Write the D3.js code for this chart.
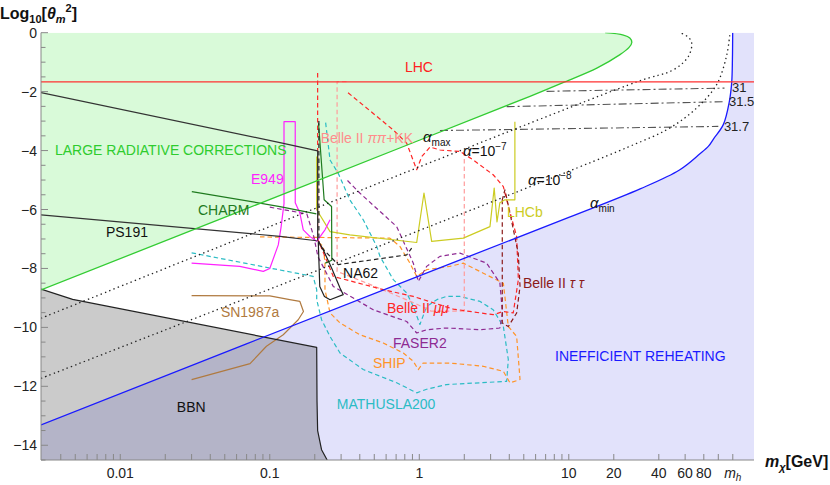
<!DOCTYPE html>
<html><head><meta charset="utf-8">
<script src="https://cdn.jsdelivr.net/npm/d3@7"></script>
<style>
body{margin:0;background:#fff}
text{font-family:"Liberation Sans",Arial,Helvetica,sans-serif}
</style></head>
<body><svg id="c" width="830" height="485"></svg>
<script>
// ---------- data: [mass GeV, log10 theta^2] ----------
const radiativeBound = [[0.00295,-8.73],[1,-3.65],[5.5,-2.16],[9.4,-1.67],[15.4,-1.2],[22,-0.745],[25.3,-0.5],[26.4,-0.33],[25.6,-0.18],[23.2,-0.08],[17.5,0]];
const alphaMin = [[0.00295,-13.31],[1,-8.25],[10,-6.27],[30,-5.3],[55,-4.66],[75,-4.12],[86,-3.85],[93,-3.6],[108,-3.12],[118.6,-2.33],[123,-1.67],[124.3,-0.9],[124.8,0]];
const alpha7 = [[0.00295,-9.69],[28.4,-1.67],[50,-1.26],[63,-0.81],[66.4,-0.36],[63,-0.15],[55.5,0]];
const alpha8 = [[0.00295,-11.73],[24.4,-3.9],[47.5,-3.23],[71.8,-2.55],[97.5,-1.76],[114,-0.75],[119.7,0]];
const lhcLevel = [[0.00295,-1.67],[173.3,-1.67]];
const contour31 = [[7.1,-1.99],[110,-1.88]];
const contour315 = [[3.84,-2.51],[110,-2.34]];
const contour317 = [[1.375,-3.32],[100,-3.18]];
const bbnBound = [[0.00295,-8.7],[0.0048,-9.05],[0.206,-10.68],[0.207,-12.5],[0.209,-13.5],[0.222,-14.15],[0.242,-14.5]];
const topBlack = [[0.00295,-2.03],[0.117,-3.73],[0.209,-4.01],[0.209,-7.06]];
const ps191 = [[0.00295,-6.18],[0.117,-6.91],[0.206,-7.06]];
const na62Solid = [[0.211,-7.08],[0.214,-8.0],[0.216,-8.61],[0.232,-8.95],[0.253,-9.06],[0.31,-8.89],[0.295,-8.66],[0.26,-8.0],[0.228,-7.37],[0.213,-7.1]];
const na62Dashed = [[0.213,-3.0],[0.213,-7.2],[0.287,-7.87],[0.824,-7.54],[0.889,-7.31]];
const charmA = [[0.0301,-5.39],[0.117,-5.9],[0.205,-6.15]];
const charmB = [[0.212,-3.07],[0.231,-5.67],[0.259,-5.9],[0.26,-7.72],[0.235,-7.82]];
const e949 = [[0.03,-7.82],[0.063,-7.93],[0.0905,-8.1],[0.1,-8.0],[0.114,-7.2],[0.119,-6.6],[0.1245,-5.8],[0.1245,-3.02],[0.148,-3.02],[0.148,-5.77],[0.159,-6.12],[0.1675,-6.69],[0.186,-6.92],[0.206,-7.08],[0.234,-6.69],[0.253,-6.35]];
const lhcb = [[0.206,-4.2],[0.206,-6.01],[0.253,-6.75],[0.343,-6.86],[0.961,-7.12],[1.075,-5.44],[1.21,-7.08],[1.97,-6.97],[2.97,-6.58],[3.17,-5.27],[3.31,-6.42],[3.46,-5.77],[3.74,-5.67],[4.36,-5.67],[4.36,-3.02]];
const belleMuMu = [[0.209,-1.37],[0.209,-7.0],[0.266,-8.27],[0.574,-8.72],[0.912,-8.95],[1.69,-9.38],[3.12,-9.57],[3.65,-9.46],[4.25,-9.51],[4.6,-8.38],[4.48,-6.92],[3.84,-5.67],[3.65,-5.22],[3.12,-4.82],[2.3,-4.32],[1.87,-4.03],[1.375,-3.98],[1.18,-3.88],[1.04,-4.2],[0.961,-4.65],[0.824,-3.75],[0.67,-3.3],[0.327,-2.0]];
const bellePiPiA = [[2.0,-9.45],[1.2,-9.45],[0.95,-9.2],[0.5,-8.6],[0.282,-8.1],[0.282,-1.66],[0.33,-1.66]];
const bellePiPiB = [[2.0,-4.03],[2.0,-9.45]];
const belleTauTau = [[3.59,-5.67],[3.59,-9.85],[3.94,-9.97],[4.48,-9.51],[4.72,-8.61],[4.59,-7.48],[4.04,-6.12],[3.74,-5.33],[3.59,-5.67]];
const faser2 = [[0.1,-5.92],[0.177,-6.15],[0.197,-6.92],[0.21,-7.6],[0.266,-8.61],[0.492,-9.4],[0.824,-9.8],[0.961,-10.19],[1.12,-10.08],[1.52,-10.02],[2.55,-10.08],[3.46,-10.02],[3.6,-9.51],[3.46,-8.49],[2.82,-7.82],[1.87,-7.48],[1.375,-7.59],[1.12,-7.93],[0.985,-8.44],[0.912,-7.82],[0.706,-6.58],[0.4,-5.44],[0.327,-4.99]];
const ship = [[0.086,-6.93],[0.636,-6.97],[0.742,-7.25],[0.866,-7.82],[0.961,-8.27],[1.12,-8.04],[1.6,-7.93],[1.97,-7.82],[2.68,-8.16],[3.65,-8.5],[3.94,-9.97],[4.48,-10.31],[4.72,-11.77],[4.04,-11.88],[3.65,-11.49],[2.68,-11.32],[1.6,-11.21],[1.06,-11.21],[0.985,-11.43],[0.912,-11.15],[0.782,-10.87],[0.574,-10.53],[0.401,-10.25],[0.295,-9.85],[0.253,-9.51],[0.234,-8.72],[0.234,-7.82],[0.228,-7.25],[0.21,-7.1]];
const mathusla = [[0.03,-7.47],[0.195,-8.27],[0.206,-8.72],[0.206,-9.06],[0.222,-9.74],[0.253,-10.31],[0.295,-10.87],[0.422,-11.43],[0.706,-11.88],[0.961,-12.22],[1.12,-12.1],[1.52,-11.94],[2.55,-11.88],[3.84,-11.83],[3.94,-11.09],[3.65,-9.97],[3.12,-9.4],[2.55,-9.12],[1.87,-8.95],[1.52,-8.95],[1.31,-9.06],[1.12,-9.29],[1.01,-9.9],[0.912,-9.29],[0.824,-8.83],[0.67,-8.38],[0.546,-7.59],[0.519,-7.25],[0.422,-6.35],[0.343,-5.67],[0.287,-4.77],[0.253,-4.32],[0.236,-3.02]];
const sn1987a = [[0.03,-8.92],[0.1,-8.93],[0.136,-9.06],[0.159,-9.12],[0.168,-9.46],[0.155,-9.74],[0.123,-10.25],[0.095,-10.64],[0.0738,-11.23],[0.03,-11.77]];

const xTickVals = [0.004,0.005,0.006,0.007,0.008,0.009,0.01,0.02,0.03,0.04,0.05,0.06,0.07,0.08,0.09,0.1,0.2,0.3,0.4,0.5,0.6,0.7,0.8,0.9,1,2,3,4,5,6,7,8,9,10,20,40,60,80,100,125];
const xTickLabels = [[0.01,"0.01"],[0.1,"0.1"],[1,"1"],[10,"10"],[20,"20"],[40,"40"],[60,"60"],[80,"80"]];
const yMajor = [0,-2,-4,-6,-8,-10,-12,-14];
const yMinor = [-0.5,-1,-1.5,-2.5,-3,-3.5,-4.5,-5,-5.5,-6.5,-7,-7.5,-8.5,-9,-9.5,-10.5,-11,-11.5,-12.5,-13,-13.5,-14.5];

// ---------- scales ----------
const svg = d3.select("#c");
const x = d3.scaleLog().domain([0.00295,173.3]).range([41,754]);
const y = d3.scaleLinear().domain([-14.5,0]).range([460,32.7]);
const X0 = x.domain()[0], X1 = x.domain()[1], Y0 = y.domain()[0], Y1 = y.domain()[1];
const lin = d3.line().x(d=>x(d[0])).y(d=>y(d[1]));
const smooth = d3.line().x(d=>x(d[0])).y(d=>y(d[1])).curve(d3.curveCatmullRom.alpha(0.5));
const P = (m,v)=>x(m)+","+y(v);

svg.append("defs").append("clipPath").attr("id","clip").append("rect")
  .attr("x",x(X0)).attr("y",y(Y1)).attr("width",x(X1)-x(X0)).attr("height",y(Y0)-y(Y1));
const g = svg.append("g").attr("clip-path","url(#clip)");

// fills
g.append("path").attr("d", smooth(alphaMin)+"L"+P(X1,Y1)+"L"+P(X1,Y0)+"L"+P(X0,Y0)+"Z").attr("fill","#e2e2fb");
g.append("path").attr("d", smooth(radiativeBound)+"L"+P(X0,Y1)+"Z").attr("fill","#d9fad9");
g.append("path").attr("d", lin(bbnBound)+"L"+P(X0,Y0)+"Z").attr("fill","#cbcbcb").style("mix-blend-mode","multiply");

function draw(data, color, opts={}){
  g.append("path").attr("d",(opts.smooth?smooth:lin)(data)).attr("fill","none")
   .attr("stroke",color).attr("stroke-width",opts.w||1.2)
   .attr("stroke-dasharray",opts.dash||null).attr("stroke-linejoin","round");
}
const DASH="4.5,3";
// experiments
draw(sn1987a,"#b07a40");
draw(mathusla,"#2bbcc4",{dash:DASH});
draw(ship,"#ff9428",{dash:DASH});
draw(faser2,"#8e2a92",{dash:DASH});
draw(bellePiPiA,"#ff9c9c",{dash:DASH});
draw(bellePiPiB,"#ff9c9c",{dash:DASH});
draw(belleMuMu,"#ff2626",{dash:DASH});
draw(belleTauTau,"#8b1a1a",{dash:DASH});
draw(lhcb,"#cccc22");
draw(e949,"#ff22ff");
draw(charmA,"#1f7a1f");
draw(charmB,"#1f7a1f");
draw(na62Dashed,"#222",{dash:DASH});
draw(na62Solid,"#222");
draw(topBlack,"#333");
draw(ps191,"#333");
// contours
draw(contour31,"#555",{dash:"8,3,2,3",w:1.1});
draw(contour315,"#555",{dash:"8,3,2,3",w:1.1});
draw(contour317,"#555",{dash:"8,3,2,3",w:1.1});
draw(alpha7,"#222",{smooth:true,dash:"1.4,3.2",w:1.3});
draw(alpha8,"#222",{smooth:true,dash:"1.4,3.2",w:1.3});
draw(bbnBound,"#222");
draw(alphaMin,"#1a1aff",{smooth:true,w:1.3});
draw(radiativeBound,"#33cc33",{smooth:true,w:1.3});
draw(lhcLevel,"#ff3030",{w:1.1});

// ---------- labels ----------
function label(m,v,color,parts,size){
  const t = svg.append("text").attr("x",x(m)).attr("y",y(v)+5).attr("fill",color).attr("font-size",size||14);
  parts.forEach(p=>{
    if(typeof p==="string"){ t.append("tspan").text(p); return; }
    const s = t.append("tspan").text(p.t);
    if(p.i) s.attr("font-style","italic");
    if(p.fs) s.attr("font-size",p.fs);
    if(p.dy) s.attr("dy",p.dy);
    if(p.ls) s.attr("letter-spacing",p.ls);
  });
  return t;
}
label(0.802,-1.163,"#ff2020",["LHC"]);
label(0.00366,-3.976,"#2ecc2e",["LARGE RADIATIVE CORRECTIONS"]);
label(0.0749,-4.959,"#ff22ff",["E949"]);
label(0.0331,-6.01,"#1f7a1f",["CHARM"]);
label(0.00802,-6.78,"#111",["PS191"]);
label(0.309,-8.146,"#111",["NA62"]);
label(0.0471,-9.49,"#b07a40",["SN1987a"]);
label(0.0239,-12.69,"#111",["BBN"]);
label(0.219,-3.58,"#ff8c8c",["Belle II ",{t:"ππ",i:true},"+KK"]);
label(1.059,-3.536,"#111",[{t:"α",i:true,fs:15},{t:"max",fs:10,dy:4}]);
label(1.96,-4.01,"#111",[{t:"α",i:true,fs:15},"=10",{t:"−7",fs:10,dy:-6}]);
label(5.33,-4.993,"#111",[{t:"α",i:true,fs:15},"=10",{t:"−8",fs:10,dy:-6}]);
label(13.86,-5.773,"#111",[{t:"α",i:true,fs:15},{t:"min",fs:10,dy:4}]);
label(3.86,-6.078,"#cccc22",["LHCb"]);
label(4.94,-8.485,"#8b1a1a",["Belle II ",{t:"τ τ",i:true}]);
label(0.608,-9.332,"#ff2626",["Belle II ",{t:"μμ",i:true}]);
label(0.667,-10.52,"#8e2a92",["FASER2"]);
label(0.49,-11.2,"#ff9428",["SHIP"]);
label(0.281,-12.59,"#2bbcc4",["MATHUSLA200"]);
label(8.09,-10.96,"#1a1aff",["INEFFICIENT REHEATING"]);
label(123.5,-1.84,"#222",["31"],13);
label(118,-2.315,"#222",["31.5"],13);
label(109,-3.163,"#222",["31.7"],13);

// ---------- axes ----------
const ax = svg.append("g");
ax.append("line").attr("x1",x(X0)).attr("x2",x(X0)).attr("y1",y(Y1)).attr("y2",y(Y0)).attr("stroke","#888");
ax.append("line").attr("x1",x(X0)).attr("x2",x(X1)).attr("y1",y(Y0)).attr("y2",y(Y0)).attr("stroke","#888");
xTickVals.forEach(v=>{
  ax.append("line").attr("x1",x(v)).attr("x2",x(v)).attr("y1",y(Y0)).attr("y2",y(Y0)-6).attr("stroke","#888");
});
xTickLabels.forEach(([v,s])=>{
  ax.append("text").attr("x",x(v)).attr("y",y(Y0)+18).attr("text-anchor","middle").attr("font-size",14).attr("fill","#222").text(s);
});
const mh = ax.append("text").attr("x",x(125)).attr("y",y(Y0)+18).attr("text-anchor","middle").attr("font-size",14).attr("fill","#222");
mh.append("tspan").attr("font-style","italic").text("m");
mh.append("tspan").attr("font-size",10).attr("font-style","italic").attr("dy",3).text("h");
yMajor.forEach(v=>{
  ax.append("line").attr("x1",x(X0)).attr("x2",x(X0)+7).attr("y1",y(v)).attr("y2",y(v)).attr("stroke","#888");
  ax.append("text").attr("x",x(X0)-4).attr("y",y(v)+5).attr("text-anchor","end").attr("font-size",14).attr("fill","#222")
    .text(v===0?"0":"−"+Math.abs(v));
});
yMinor.forEach(v=>{
  ax.append("line").attr("x1",x(X0)).attr("x2",x(X0)+4.5).attr("y1",y(v)).attr("y2",y(v)).attr("stroke","#888");
});
// axis titles
const yt = svg.append("text").attr("x",0).attr("y",19).attr("font-size",16).attr("font-weight","bold").attr("fill","#111");
yt.append("tspan").text("Log");
yt.append("tspan").attr("font-size",11).attr("dy",4).text("10");
yt.append("tspan").attr("dy",-4).text("[");
yt.append("tspan").attr("font-style","italic").text("θ");
yt.append("tspan").attr("font-style","italic").attr("font-size",11).attr("dy",4).text("m");
yt.append("tspan").attr("font-size",11).attr("dy",-11).text("2");
yt.append("tspan").attr("dy",7).text("]");
const xt = svg.append("text").attr("x",765).attr("y",467).attr("font-size",16).attr("font-weight","bold").attr("fill","#111");
xt.append("tspan").attr("font-style","italic").text("m");
xt.append("tspan").attr("font-style","italic").attr("font-size",11).attr("dy",4).text("χ");
xt.append("tspan").attr("dy",-4).text("[GeV]");
</script></body></html>
